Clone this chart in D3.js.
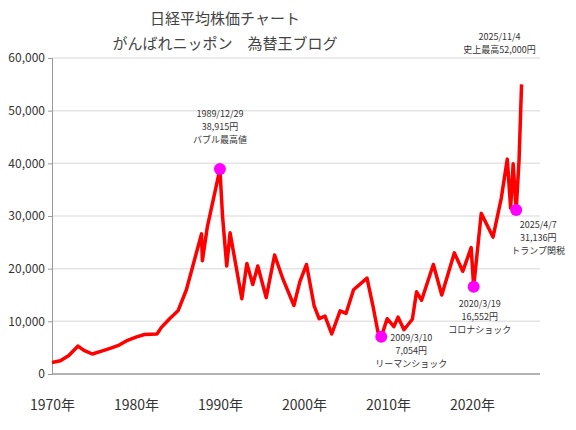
<!DOCTYPE html>
<html><head><meta charset="utf-8">
<script src="https://cdn.jsdelivr.net/npm/d3@7"></script>
<style>body{margin:0;background:#fff}text{font-family:"Noto Sans CJK JP",sans-serif}</style>
</head><body><div id="chart"></div>
<script>
// approximate Nikkei 225 path
var years = [1970,1971,1972,1973.1,1973.8,1974.8,1976,1977,1978,1979,1980,1981,1982.5,1983,1984,1985,1986,1987.8,1987.9,1988.5,1989.99,1990.3,1990.8,1991.2,1992.6,1993.2,1993.9,1994.5,1995.5,1996.5,1997.5,1998.8,1999.5,2000.3,2001.2,2001.8,2002.5,2003.3,2004.3,2005,2005.9,2007.5,2008.2,2008.8,2009.2,2009.9,2010.7,2011.2,2011.9,2012.9,2013.4,2014,2015.4,2016.4,2017.9,2018.9,2019.9,2020.2,2021.1,2022.5,2023.5,2024.2,2024.6,2024.9,2025.26,2025.6,2025.9];
var values = [2200,2500,3500,5300,4500,3800,4400,4900,5500,6400,7000,7500,7600,8800,10500,12000,16000,26600,21500,28000,38915,30000,20500,26800,14300,21000,17000,20500,14500,22600,18000,13000,17500,20800,13000,10500,11000,7600,12000,11500,16000,18200,13000,8000,7054,10500,9000,10800,8400,10400,15600,14000,20800,15000,23000,19500,24000,16552,30500,26000,33500,40800,31500,39900,31136,40500,55000];
var yTicks = [0,10000,20000,30000,40000,50000,60000];
var xTicks = [1970,1980,1990,2000,2010,2020];
var notes = [
  {x:1989.99, y:38915, lines:["1989/12/29","38,915円","バブル最高値"], dx:0, dy:-52},
  {x:2009.2, y:7054, lines:["2009/3/10","7,054円","リーマンショック"], dx:30, dy:4},
  {x:2020.2, y:16552, lines:["2020/3/19","16,552円","コロナショック"], dx:6, dy:20},
  {x:2025.26, y:31136, lines:["2025/4/7","31,136円","トランプ関税"], dx:22, dy:18}
];

var svg = d3.select("#chart").append("svg").attr("width",576).attr("height",430);
var x = d3.scaleLinear().domain([1970,2030]).range([52,556]);
var y = d3.scaleLinear().domain([0,60000]).range([374,58]);

svg.append("g").selectAll("line").data(yTicks.slice(1)).enter().append("line")
  .attr("x1",52).attr("x2",540).attr("y1",d=>y(d)).attr("y2",d=>y(d))
  .attr("stroke","#e4e4e4").attr("stroke-width",1.5);

var ya = svg.append("g").attr("transform","translate(52,0)")
  .call(d3.axisLeft(y).tickValues(yTicks).tickSize(4).tickFormat(d3.format(",")));
ya.select(".domain").attr("stroke","#999");
ya.selectAll("line").attr("stroke","#999");
ya.selectAll("text").attr("x",-7).attr("font-size",12).attr("fill","#333");

var xa = svg.append("g").attr("transform","translate(0,374)")
  .call(d3.axisBottom(x).tickValues(xTicks).tickSize(0).tickFormat(d=>d+"年"));
xa.select(".domain").attr("d","M52,0H540").attr("stroke","#999").attr("stroke-width",1.5);
xa.selectAll("text").attr("y",26).attr("font-size",14).attr("fill","#333");

var pts = years.map((d,i)=>[d,values[i]]);
svg.append("path").datum(pts).attr("fill","none").attr("stroke","#ff0000").attr("stroke-width",3.5)
  .attr("stroke-linejoin","round")
  .attr("d", d3.line().x(d=>x(d[0])).y(d=>y(d[1])));

notes.forEach(function(n){
  svg.append("circle").attr("cx",x(n.x)).attr("cy",y(n.y)).attr("r",6).attr("fill","#ff00ff");
  var t = svg.append("text").attr("text-anchor","middle").attr("font-size",9).attr("fill","#333");
  n.lines.forEach(function(l,i){
    t.append("tspan").attr("x",x(n.x)+n.dx).attr("y",y(n.y)+n.dy+i*13).text(l);
  });
});
var recent = svg.append("text").attr("text-anchor","middle").attr("font-size",9).attr("fill","#333");
recent.append("tspan").attr("x",x(2025.9)-22).attr("y",40).text("2025/11/4");
recent.append("tspan").attr("x",x(2025.9)-22).attr("y",53).text("史上最高52,000円");

var title = svg.append("text").attr("text-anchor","middle").attr("font-size",15).attr("fill","#444");
title.append("tspan").attr("x",225).attr("y",24).text("日経平均株価チャート");
title.append("tspan").attr("x",225).attr("y",49).text("がんばれニッポン　為替王ブログ");
</script></body></html>
